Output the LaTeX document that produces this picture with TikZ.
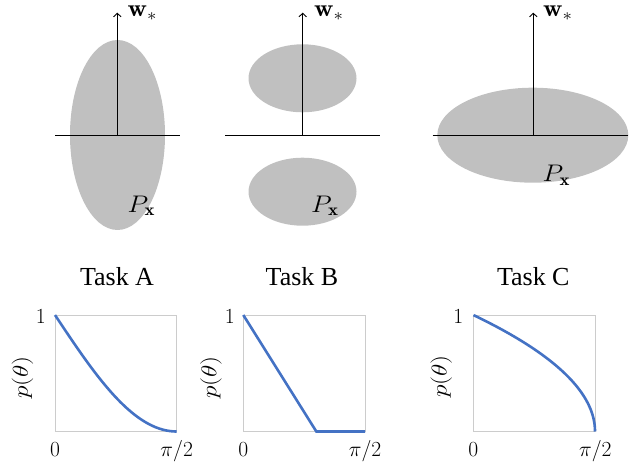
\RequirePackage{fix-cm}
\documentclass[tikz,border=0pt]{standalone}
\usepackage{fontspec}
\usetikzlibrary{arrows.meta}
\newfontfamily\timesfont{Liberation Serif}
\definecolor{ellgray}{RGB}{192,192,192}
\definecolor{boxgray}{RGB}{204,204,204}
\definecolor{curveblue}{RGB}{68,114,196}
\tikzset{
  blob/.style={fill=ellgray, draw=none},
  axisline/.style={black, line width=0.9pt},
  wvec/.style={black, line width=0.9pt, -{Straight Barb[length=3.5pt,width=7.5pt]}},
  mathlbl/.style={inner sep=0pt, font=\fontsize{21.5}{26}\selectfont},
  vlbl/.style={inner sep=0pt, font=\fontsize{24}{28}\selectfont, xscale=1.12},
  tasklbl/.style={inner sep=0pt, font=\fontsize{26}{30}\selectfont\timesfont},
  plotbox/.style={draw=boxgray, line width=1pt},
  curve/.style={draw=curveblue, line width=2.6pt},
}
\begin{document}
\begin{tikzpicture}[x=1pt,y=1pt]
\useasboundingbox (0,0) rectangle (629,-465);

% ---------- Panel A ----------
\fill[blob] (117.5,-135) ellipse [x radius=47.5, y radius=95];
\coordinate (aL) at (55,-135);
\coordinate (aR) at (180,-135);
\coordinate (aO) at (117.3,-135);
\coordinate (aT) at (117.3,-12.7);
\draw[axisline] (aL) -- (aR);
\draw[wvec] (aO) -- (aT);
\node[vlbl, anchor=base west] (awl) at (127.5,-16.5) {$\mathbf{w}_*$};
\node[vlbl, anchor=base west] (apl) at (127.5,-212) {$P_{\mathbf{x}}$};

% ---------- Panel B ----------
\fill[blob] (302.5,-78.3) ellipse [x radius=54, y radius=34];
\fill[blob] (302.5,-191.7) ellipse [x radius=54, y radius=34];
\coordinate (bL) at (225,-135);
\coordinate (bR) at (380,-135);
\coordinate (bO) at (302.7,-135);
\coordinate (bT) at (302.7,-12.7);
\draw[axisline] (bL) -- (bR);
\draw[wvec] (bO) -- (bT);
\node[vlbl, anchor=base west] (bwl) at (314,-16.5) {$\mathbf{w}_*$};
\node[vlbl, anchor=base west] (bpl) at (311,-212) {$P_{\mathbf{x}}$};

% ---------- Panel C ----------
\fill[blob] (532.8,-135.2) ellipse [x radius=95.5, y radius=47.5];
\coordinate (cL) at (432.7,-135);
\coordinate (cR) at (628.3,-135);
\coordinate (cO) at (533.3,-135);
\coordinate (cT) at (533.3,-12.7);
\draw[axisline] (cL) -- (cR);
\draw[wvec] (cO) -- (cT);
\node[vlbl, anchor=base west] (cwl) at (543,-16.5) {$\mathbf{w}_*$};
\node[vlbl, anchor=base west] (cpl) at (542.5,-181.5) {$P_{\mathbf{x}}$};

% ---------- Task labels ----------
\node[tasklbl, anchor=base] (ta) at (117,-285.7) {Task A};
\node[tasklbl, anchor=base] (tb) at (302,-285.7) {Task B};
\node[tasklbl, anchor=base] (tc) at (533.3,-285.7) {Task C};

% ---------- Plot A ----------
\begin{scope}[shift={(55,-431.5)}, x=121.7pt, y=116.5pt]
  \draw[plotbox] (0,0) rectangle (1,1);
  \draw[curve] plot[domain=0:1, samples=80, smooth] (\x, {1-sin(90*\x)});
\end{scope}
\node[mathlbl, anchor=base east] (a1) at (46,-323.3) {$1$};
\node[mathlbl, anchor=base] (a0) at (55,-456) {$0$};
\node[mathlbl, anchor=base] (api) at (176.7,-456) {$\pi/2$};
\node[mathlbl, rotate=90, xscale=1.18] (ap) at (22.5,-377.5) {$p(\theta)$};

% ---------- Plot B ----------
\begin{scope}[shift={(243.3,-431.5)}, x=121.7pt, y=116.5pt]
  \draw[plotbox] (0,0) rectangle (1,1);
  \draw[curve] (0,1) -- (0.6,0) -- (1,0);
\end{scope}
\node[mathlbl, anchor=base east] (b1) at (235,-323.3) {$1$};
\node[mathlbl, anchor=base] (b0) at (243.3,-456) {$0$};
\node[mathlbl, anchor=base] (bpi) at (365,-456) {$\pi/2$};
\node[mathlbl, rotate=90, xscale=1.18] (bp) at (211,-377.5) {$p(\theta)$};

% ---------- Plot C ----------
\begin{scope}[shift={(473.3,-431.5)}, x=121.7pt, y=116.5pt]
  \draw[plotbox] (0,0) rectangle (1,1);
  \draw[curve] plot[domain=0:1, samples=80, smooth] ({1-\x*\x}, \x);
\end{scope}
\node[mathlbl, anchor=base east] (c1) at (463.5,-323.3) {$1$};
\node[mathlbl, anchor=base] (c0) at (473.3,-456) {$0$};
\node[mathlbl, anchor=base] (cpi) at (595.3,-456) {$\pi/2$};
\node[mathlbl, rotate=90, xscale=1.18] (cp) at (441.3,-376.5) {$p(\theta)$};
\end{tikzpicture}
\end{document}
